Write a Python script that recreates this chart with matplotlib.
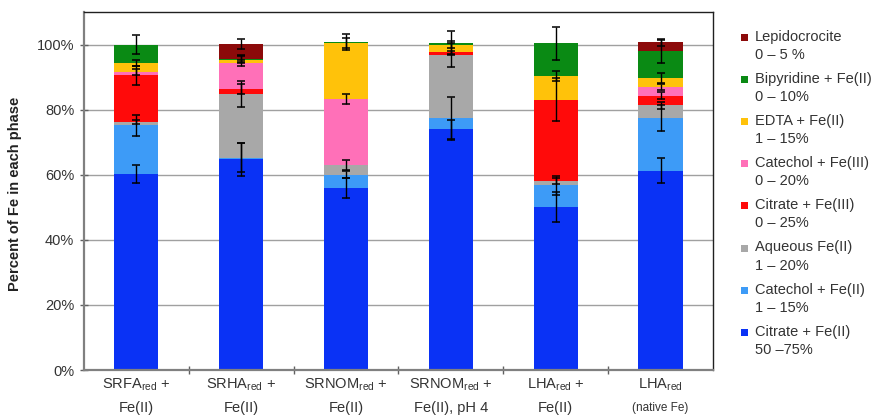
import numpy as np
import matplotlib
matplotlib.use("Agg")
import matplotlib.pyplot as plt
from matplotlib.patches import Rectangle
import matplotlib.transforms as mtransforms

plt.rcParams['font.family'] = ['Liberation Sans', 'DejaVu Sans']
plt.rcParams['mathtext.fontset'] = 'custom'
plt.rcParams['mathtext.rm'] = 'Liberation Sans'

# samples (x categories)
line1 = ["SRFA$_{\\rm red}$ +", "SRHA$_{\\rm red}$ +", "SRNOM$_{\\rm red}$ +",
         "SRNOM$_{\\rm red}$ +", "LHA$_{\\rm red}$ +", "LHA$_{\\rm red}$"]
line2 = ["Fe(II)", "Fe(II)", "Fe(II)", "Fe(II), pH 4", "Fe(II)", "(native Fe)"]

# phases, bottom to top
phases = ["Citrate + Fe(II)", "Catechol + Fe(II)", "Aqueous Fe(II)",
          "Citrate + Fe(III)", "Catechol + Fe(III)", "EDTA + Fe(II)",
          "Bipyridine + Fe(II)", "Lepidocrocite"]
ranges = ["50 \u201375%", "1 \u2013 15%", "1 \u2013 20%", "0 \u2013 25%",
          "0 \u2013 20%", "1 \u2013 15%", "0 \u2013 10%", "0 \u2013 5 %"]
colors = ["#0a32f5", "#3d9bf7", "#a8a8a8", "#ff0a0a",
          "#ff70b8", "#ffc20a", "#0a8a14", "#8c0a0a"]

citrate_fe2 = [60.3, 64.7, 55.9, 73.9, 50.1, 61.3]
catechol_fe2 = [14.9, 0.5, 4.1, 3.5, 6.6, 16.1]
aqueous_fe2 = [1.0, 19.7, 2.9, 19.4, 1.4, 3.9]
citrate_fe3 = [14.3, 1.5, 0.0, 0.8, 25.0, 3.0]
catechol_fe3 = [1.1, 8.0, 20.4, 0.0, 0.0, 2.7]
edta_fe2 = [2.8, 1.0, 17.2, 2.4, 7.3, 2.7]
bipyridine_fe2 = [5.6, 0.3, 0.3, 0.5, 10.0, 8.2]
lepidocrocite = [0.0, 4.4, 0.0, 0.0, 0.0, 2.8]

err_citrate_fe2 = [2.7, 5.2, 3.0, 2.8, 4.5, 3.8]
err_catechol_fe2 = [3.2, 4.5, 1.0, 6.6, 3.0, 4.0]
err_aqueous_fe2 = [0.5, 4.0, 1.5, 3.7, 1.0, 1.0]
err_citrate_fe3 = [3.0, 1.5, 0.0, 0.5, 6.5, 1.0]
err_catechol_fe3 = [1.0, 1.0, 1.5, 0.0, 0.0, 1.0]
err_edta_fe2 = [1.0, 1.0, 1.5, 1.0, 1.5, 1.5]
err_bipyridine_fe2 = [3.0, 1.0, 2.5, 3.8, 5.0, 3.5]
err_lepidocrocite = [0.0, 1.5, 0.0, 0.0, 0.0, 1.0]

values = [citrate_fe2, catechol_fe2, aqueous_fe2, citrate_fe3,
          catechol_fe3, edta_fe2, bipyridine_fe2, lepidocrocite]
errors = [err_citrate_fe2, err_catechol_fe2, err_aqueous_fe2, err_citrate_fe3,
          err_catechol_fe3, err_edta_fe2, err_bipyridine_fe2, err_lepidocrocite]

fig = plt.figure(figsize=(8.82, 4.17), dpi=100)
ax = fig.add_axes([0.0952, 0.1127, 0.7131, 0.8585])

x = np.arange(len(line1))
bottom = np.zeros(len(x))
for vals, col in zip(values, colors):
    ax.bar(x, vals, 0.42, bottom=bottom, color=col, edgecolor='none', zorder=2)
    bottom = bottom + np.array(vals)

# error bars at the top of each segment
bottom = np.zeros(len(x))
for vals, errs in zip(values, errors):
    top = bottom + np.array(vals)
    m = (np.array(vals) > 0) & (np.array(errs) > 0)
    ax.errorbar(x[m], top[m], yerr=np.array(errs)[m], fmt='none', ecolor='black',
                elinewidth=1.0, capsize=3.2, capthick=1.1, zorder=3)
    bottom = top

ax.set_xlim(-0.5, len(x) - 0.5)
ax.set_ylim(0, 110)
ax.set_yticks([0, 20, 40, 60, 80, 100])
ax.set_yticklabels(["0%", "20%", "40%", "60%", "80%", "100%"], fontsize=10.5, color='#333333')
ax.yaxis.grid(True, color='#a0a0a0', linewidth=1, zorder=0)
ax.set_axisbelow(True)
ax.tick_params(axis='y', direction='inout', length=6, width=1, color='#606060', pad=4)

ax.set_xticks(x)
ax.set_xticklabels([""] * len(x))
ax.tick_params(axis='x', which='major', length=0)
ax.set_xticks(np.arange(0.5, len(x) - 0.5), minor=True)
ax.tick_params(axis='x', which='minor', direction='inout', length=6, width=1, color='#606060')

for s in ['left', 'bottom']:
    ax.spines[s].set_color('#808080')
    ax.spines[s].set_linewidth(1.6)
for s in ['top', 'right']:
    ax.spines[s].set_color('#202020')
    ax.spines[s].set_linewidth(1.0)

fig.text(15 / 882, 1 - 194 / 417, "Percent of Fe in each phase", rotation=90,
         ha='center', va='center', fontsize=10.5, fontweight='bold', color='#222222')

trans = mtransforms.blended_transform_factory(ax.transData, fig.transFigure)
for i in x:
    ax.text(i, 1 - 385 / 417, line1[i], transform=trans, ha='center', va='center',
            fontsize=10.5, color='#333333')
    fs2 = 8.5 if i == len(x) - 1 else 10.5
    ax.text(i, 1 - 408 / 417, line2[i], transform=trans, ha='center', va='center',
            fontsize=fs2, color='#333333')

# legend, top entry first
for k, idx in enumerate(range(len(phases) - 1, -1, -1)):
    ytop = 37 + k * 42.1
    fig.add_artist(Rectangle((741 / 882, 1 - (ytop + 4) / 417), 7 / 882, 7 / 417,
                             facecolor=colors[idx], edgecolor='none',
                             transform=fig.transFigure))
    fig.text(755 / 882, 1 - ytop / 417, phases[idx], ha='left', va='center',
             fontsize=10.5, color='#333333')
    fig.text(755 / 882, 1 - (ytop + 18) / 417, ranges[idx], ha='left', va='center',
             fontsize=10.5, color='#333333')

fig.savefig("out.png", dpi=100)
